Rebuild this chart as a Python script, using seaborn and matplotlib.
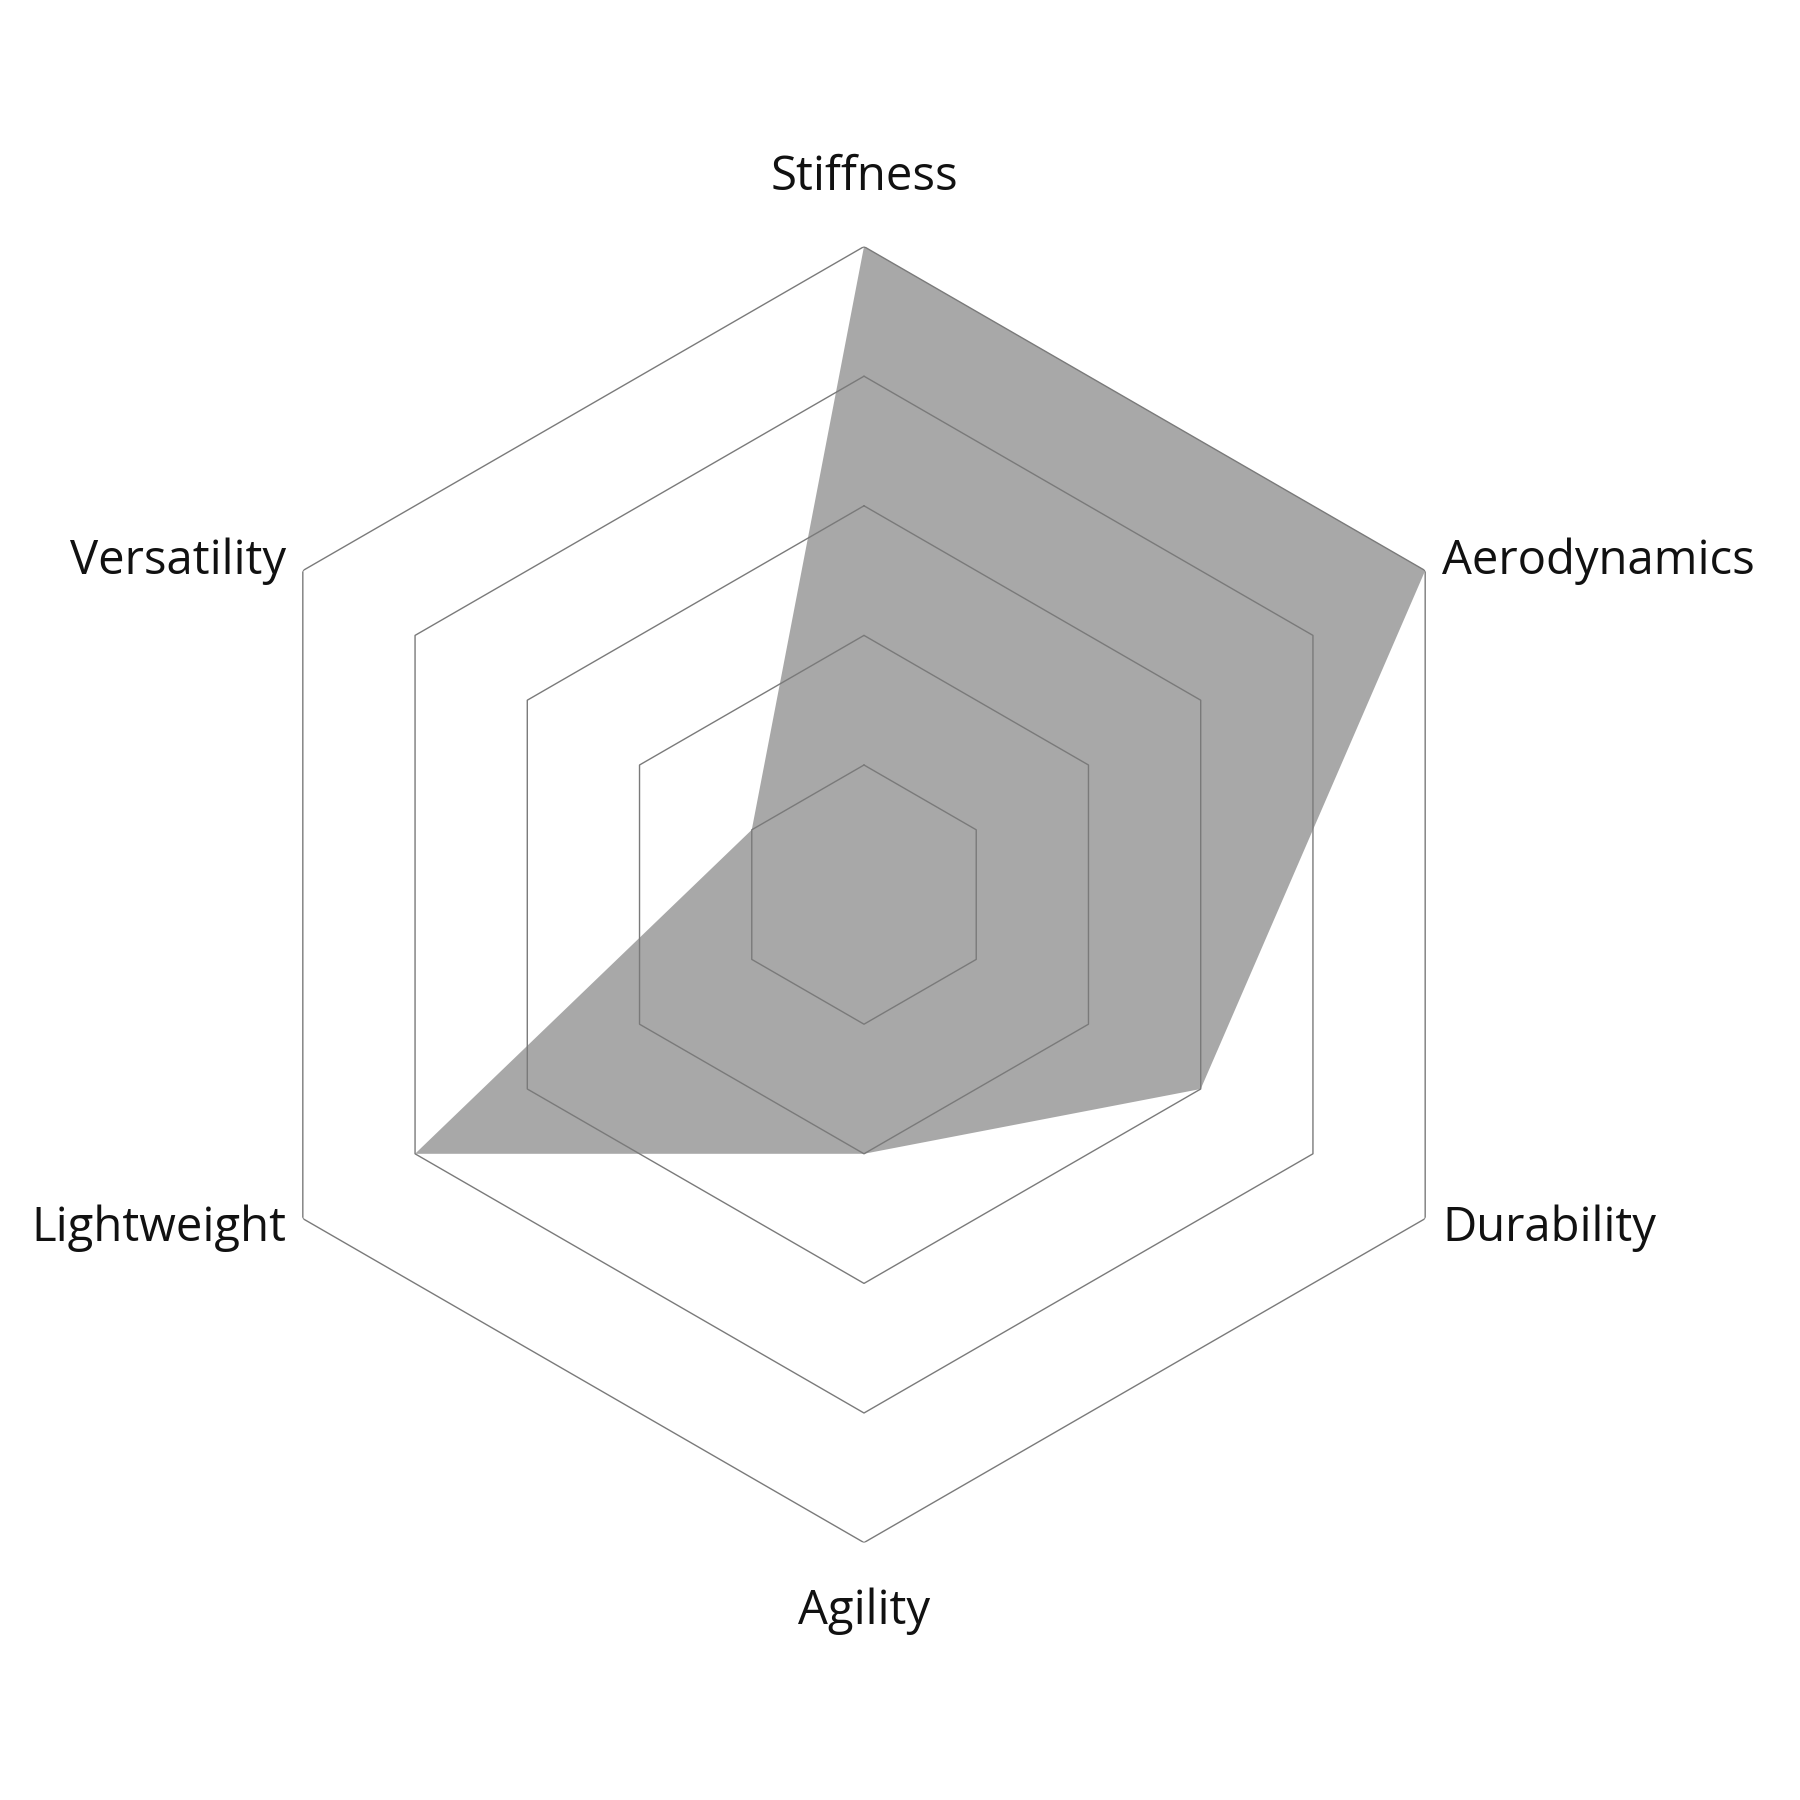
import numpy as np
import matplotlib.pyplot as plt
import seaborn as sns

categories = ["Stiffness", "Aerodynamics", "Durability", "Agility", "Lightweight", "Versatility"]
values = [5, 5, 3, 2, 4, 1]
rings = [1, 2, 3, 4, 5]

sns.set_style("white")
plt.rcParams['font.family'] = ['Open Sans', 'DejaVu Sans']

n = len(categories)
angles = np.linspace(0, 2 * np.pi, n, endpoint=False)
closed = np.append(angles, angles[0])

fig = plt.figure(figsize=(18, 18), dpi=100)
ax = fig.add_axes([0.12, 0.143, 0.72, 0.72], polar=True)
ax.set_theta_zero_location("N")
ax.set_theta_direction(-1)
ax.set_ylim(0, 5)
ax.grid(False)
ax.spines['polar'].set_visible(False)
ax.set_xticks([])
ax.set_yticks([])

# hexagonal grid
for r in rings:
    ax.plot(closed, [r] * (n + 1), color="#7a7a7a", lw=1.0)

v = np.append(values, values[0])
ax.fill(closed, v, color="#a8a8a8", lw=0)

# labels
aligns = [("center", "bottom"), ("left", "center"), ("left", "center"),
          ("center", "top"), ("right", "center"), ("right", "center")]
for ang, lab, (ha, va) in zip(angles, categories, aligns):
    rr = 5.35 if ha == "center" else 5.15
    ax.text(ang, rr, lab, ha=ha, va=va, fontsize=34, color="#111111")

fig.savefig("out.png", dpi=100, facecolor="white")
